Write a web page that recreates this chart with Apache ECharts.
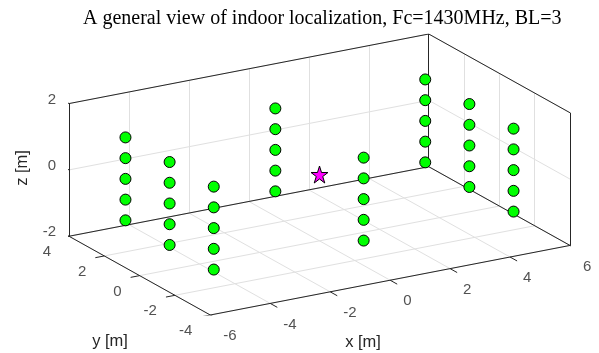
<!DOCTYPE html>
<html>
<head>
<meta charset="utf-8">
<script src="https://cdn.jsdelivr.net/npm/echarts@6/dist/echarts.min.js"></script>
<style>
    html, body { margin: 0; padding: 0; background: #fff; }
    #chart { width: 599px; height: 353px; }
</style>
</head>
<body>
<div id="chart"></div>
<script>
    // 锚点位置 (m)
    const anchorX = [-5, -5, -5, 0, 0, 5, 5, 5]
    const anchorY = [2.5, 0, -2.5, 2.5, -2.5, 2.5, 0, -2.5]
    const anchorZ = [-1.25, -0.625, 0, 0.625, 1.25]
    // 目标位置
    const targetX = [0]
    const targetY = [0]
    const targetZ = [0]
    // 坐标轴范围和刻度
    const xLim = [-6, 6]
    const yLim = [-4, 4]
    const zLim = [-2, 2]
    const xTicks = [-6, -4, -2, 0, 2, 4, 6]
    const yTicks = [-4, -2, 0, 2, 4]
    const zTicks = [-2, 0, 2]

    const titleText = 'A general view of indoor localization, Fc=1430MHz, BL=3'

    // 视角 (类似 matlab view(az, el))
    const az = -30.5 * Math.PI / 180
    const el = 19 * Math.PI / 180

    const project = (x, y, z) => {
        const sx = x * Math.cos(az) + y * Math.sin(az)
        const sy = Math.sin(el) * (-x * Math.sin(az) + y * Math.cos(az)) + Math.cos(el) * z
        return [sx, sy]
    }
    // 深度, 越大越远
    const depth = (x, y, z) => {
        return Math.cos(el) * (-x * Math.sin(az) + y * Math.cos(az)) - Math.sin(el) * z
    }

    // 盒子投影范围
    const corners = []
    xLim.forEach(x => yLim.forEach(y => zLim.forEach(z => corners.push(project(x, y, z)))))
    const sxMin = Math.min(...corners.map(c => c[0]))
    const sxMax = Math.max(...corners.map(c => c[0]))
    const syMin = Math.min(...corners.map(c => c[1]))
    const syMax = Math.max(...corners.map(c => c[1]))

    const seg = (a, b) => ({ coords: [project(...a), project(...b)] })

    // 盒子边框
    const [x0, x1] = xLim
    const [y0, y1] = yLim
    const [z0, z1] = zLim
    const boxEdges = [
        seg([x0, y0, z0], [x1, y0, z0]),
        seg([x0, y0, z0], [x0, y1, z0]),
        seg([x0, y1, z0], [x0, y1, z1]),
        seg([x0, y1, z0], [x1, y1, z0]),
        seg([x1, y0, z0], [x1, y1, z0]),
        seg([x1, y1, z0], [x1, y1, z1]),
        seg([x1, y0, z0], [x1, y0, z1]),
        seg([x0, y1, z1], [x1, y1, z1]),
        seg([x1, y0, z1], [x1, y1, z1])
    ]

    // 网格线
    const gridLines = []
    xTicks.forEach(x => {
        gridLines.push(seg([x, y0, z0], [x, y1, z0]))
        gridLines.push(seg([x, y1, z0], [x, y1, z1]))
    })
    yTicks.forEach(y => {
        gridLines.push(seg([x0, y, z0], [x1, y, z0]))
        gridLines.push(seg([x1, y, z0], [x1, y, z1]))
    })
    zTicks.forEach(z => {
        gridLines.push(seg([x0, y1, z], [x1, y1, z]))
        gridLines.push(seg([x1, y0, z], [x1, y1, z]))
    })

    // 刻度线
    const tickLines = []
    xTicks.forEach(x => tickLines.push(seg([x, y0, z0], [x, y0 - 0.4, z0])))
    yTicks.forEach(y => tickLines.push(seg([x0, y, z0], [x0 - 0.3, y, z0])))
    zTicks.forEach(z => tickLines.push(seg([x0, y1, z], [x0, y1 + 0.42, z])))

    // 锚点 按深度排序
    const anchorPts = []
    anchorX.forEach((x, i) => {
        anchorZ.forEach(z => anchorPts.push([x, anchorY[i], z]))
    })
    anchorPts.sort((a, b) => depth(...b) - depth(...a))

    // 五角星
    const starPath = (() => {
        const pts = []
        for (let k = 0; k < 10; k++) {
            const r = k % 2 === 0 ? 1 : 0.382
            const a = -Math.PI / 2 + k * Math.PI / 5
            pts.push((r * Math.cos(a)).toFixed(4) + ' ' + (r * Math.sin(a)).toFixed(4))
        }
        return 'path://M' + pts.join(' L') + ' Z'
    })()

    const tickFont = 'Liberation Sans, Arial, sans-serif'
    const tickColor = '#262626'

    const tickLabelSeries = (pts, labels, align, offset) => ({
        type: 'scatter',
        silent: true,
        symbolSize: 1,
        itemStyle: { color: 'rgba(0,0,0,0)' },
        label: {
            show: true,
            position: 'inside',
            align,
            verticalAlign: 'middle',
            offset,
            fontFamily: tickFont,
            fontSize: 15,
            color: tickColor,
            formatter: p => labels[p.dataIndex]
        },
        data: pts
    })

    const axisName = (text, x, y, rotation) => ({
        type: 'text', x, y, rotation,
        style: { text, font: '16.5px ' + tickFont, fill: tickColor, textAlign: 'center', textVerticalAlign: 'middle' }
    })

    const chart = echarts.init(document.getElementById('chart'))
    const options = {
        animation: false,
        backgroundColor: '#fff',
        title: {
            text: titleText,
            left: 78,
            top: 4,
            textStyle: {
                fontFamily: 'Liberation Serif, serif',
                fontWeight: 'normal',
                fontSize: 20,
                color: '#000'
            }
        },
        grid: { left: 69, top: 34, width: 501, height: 281 },
        xAxis: { type: 'value', min: sxMin, max: sxMax, show: false },
        yAxis: { type: 'value', min: syMin, max: syMax, show: false },
        graphic: [
            axisName('x [m]', 363, 342, 0),
            axisName('y [m]', 110, 341, 0),
            axisName('z [m]', 22, 168, Math.PI / 2)
        ],
        series: [
            {
                type: 'lines', coordinateSystem: 'cartesian2d', silent: true,
                lineStyle: { color: '#e0e0e0', width: 1, opacity: 1 },
                data: gridLines
            },
            {
                type: 'lines', coordinateSystem: 'cartesian2d', silent: true,
                lineStyle: { color: '#262626', width: 1, opacity: 1 },
                data: boxEdges.concat(tickLines)
            },
            tickLabelSeries(xTicks.map(x => project(x, y0, z0)), xTicks, 'left', [13, 21]),
            tickLabelSeries(yTicks.map(y => project(x0, y, z0)), yTicks, 'right', [-18, 16]),
            tickLabelSeries(zTicks.map(z => project(x0, y1, z)), zTicks, 'right', [-13, -4]),
            {
                type: 'scatter',
                name: 'anchors',
                symbol: 'circle',
                symbolSize: 11,
                itemStyle: { color: '#00ff00', borderColor: '#000', borderWidth: 1, opacity: 1 },
                data: anchorPts.map(p => project(...p))
            },
            {
                type: 'scatter',
                name: 'target',
                symbol: starPath,
                symbolSize: 17,
                itemStyle: { color: '#ff00ff', borderColor: '#000', borderWidth: 1, opacity: 1 },
                data: targetX.map((x, i) => project(x, targetY[i], targetZ[i]))
            }
        ]
    }
    chart.setOption(options)
</script>
</body>
</html>
